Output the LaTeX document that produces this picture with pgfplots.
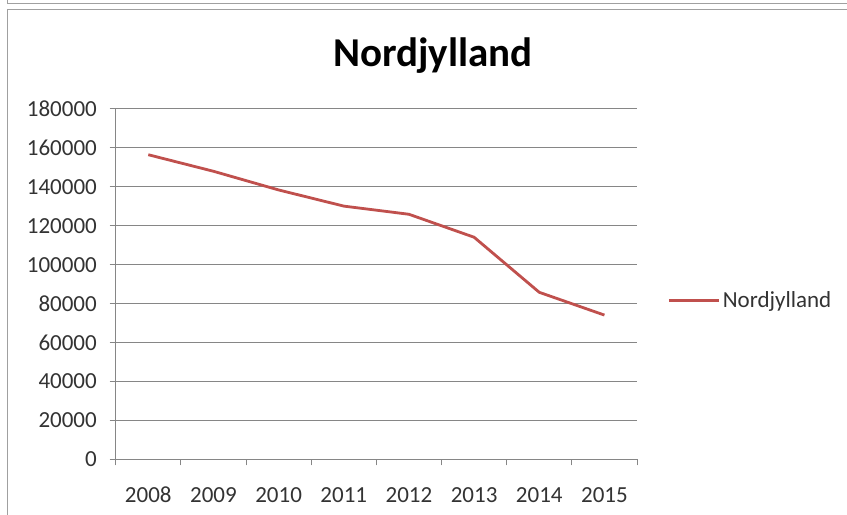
\documentclass[border=0pt]{standalone}
\usepackage{pgfplots}
\pgfplotsset{compat=1.18}
\usepackage{fontspec}
\setmainfont{Carlito}
\definecolor{linered}{HTML}{C0504D}
\definecolor{gridgray}{HTML}{868686}
\definecolor{framegray}{HTML}{A0A0A0}
\definecolor{labelgray}{HTML}{333333}
\begin{document}
\begin{tikzpicture}[x=1bp,y=1bp]
\useasboundingbox (0,0) rectangle (847,515);
\fill[white] (0,0) rectangle (847,515);
\draw[framegray, line width=1bp] (7,515) -- (7,511) -- (847,511);
\draw[framegray, line width=1bp] (7,0) -- (7,505) -- (847,505);
\node[anchor=base, inner sep=0pt, font={\fontsize{41bp}{48bp}\selectfont\bfseries}] at (433,448.3) {Nordjylland};
\begin{axis}[
  at={(115.7bp,55.7bp)}, anchor=south west,
  scale only axis, width=521.3bp, height=350.3bp,
  xmin=-0.5, xmax=7.5, ymin=0, ymax=180000,
  axis lines=left,
  axis line style={-, gridgray, line width=1bp},
  tick align=outside,
  xtick={0,1,2,3,4,5,6,7},
  xticklabels={2008,2009,2010,2011,2012,2013,2014,2015},
  major x tick style={draw=none},
  minor xtick={-0.5,0.5,1.5,2.5,3.5,4.5,5.5,6.5,7.5},
  minor tick length=6bp,
  minor x tick style={gridgray, line width=1bp},
  ytick={0,20000,40000,60000,80000,100000,120000,140000,160000,180000},
  yticklabels={0,20000,40000,60000,80000,100000,120000,140000,160000,180000},
  scaled y ticks=false,
  major tick length=6bp,
  y tick style={gridgray, line width=1bp},
  ymajorgrids,
  grid style={gridgray, line width=1bp},
  tick label style={font=\fontsize{23bp}{27bp}\selectfont, text=labelgray},
  yticklabel style={anchor=east, inner sep=0pt, xshift=-12.7bp},
  xticklabel style={anchor=base, inner sep=0pt, yshift=-37.4bp},
  legend image code/.code={\draw[#1] (0bp,0bp) -- (50bp,0bp);},
  legend style={at={(1.0585,0.4528)}, anchor=west, draw=none, fill=none,
    inner sep=0pt, outer sep=0pt, font=\fontsize{23bp}{27bp}\selectfont,
    text=labelgray, nodes={inner sep=2.5bp}},
  legend cell align=left,
]
\addplot[linered, line width=2.8bp] coordinates {(0,156500)(1,148000)(2,138400)(3,130100)(4,125900)(5,114100)(6,85800)(7,74100)};
\addlegendentry{Nordjylland}
\end{axis}
\end{tikzpicture}
\end{document}
